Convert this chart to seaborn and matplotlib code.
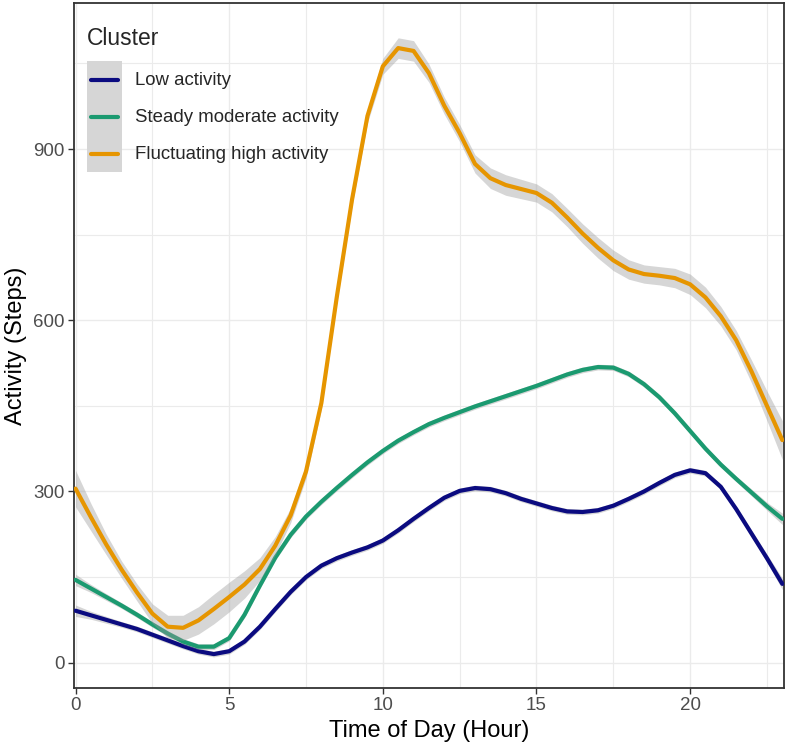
import numpy as np
import pandas as pd
import matplotlib
matplotlib.use("Agg")
import matplotlib.pyplot as plt
import seaborn as sns
from matplotlib.patches import Patch
from matplotlib.lines import Line2D
from matplotlib.legend_handler import HandlerTuple, HandlerLine2D
from matplotlib.ticker import MultipleLocator

# half-hourly grid of the smoothed curves
HOURS = np.arange(0, 23.5, 0.5)

CLUSTERS = ["Low activity", "Steady moderate activity", "Fluctuating high activity"]
COLOURS = ["#0B0B80", "#1B9A70", "#E69500"]

LOW = [91, 83, 75, 67, 59, 49, 39, 29, 20, 15, 20, 37, 63, 94, 124, 150, 170, 183,
       193, 202, 214, 232, 252, 271, 289, 301, 306, 304, 297, 287, 279, 271, 265, 264,
       267, 275, 287, 300, 315, 329, 337, 332, 308, 269, 226, 183, 138]
LOW_SE = [10, 7, 6, 5, 5, 5, 5, 5, 5, 5, 5, 5, 5, 5, 5, 5, 5, 5, 5, 5, 5, 5, 5, 5,
          5, 5, 5, 5, 5, 5, 5, 5, 5, 5, 5, 5, 5, 5, 5, 5, 5, 5, 5, 5, 6, 7, 10]

MODERATE = [145, 130, 115, 100, 84, 67, 51, 37, 28, 28, 43, 84, 135, 184, 224, 256,
            282, 306, 329, 351, 371, 389, 404, 418, 429, 439, 449, 458, 467, 476, 485,
            495, 505, 513, 518, 517, 506, 488, 465, 437, 406, 375, 347, 322, 298, 274, 252]
MODERATE_SE = [10, 7, 6, 5, 5, 5, 5, 5, 5, 5, 5, 5, 5, 5, 5, 5, 5, 5, 5, 5, 5, 5, 5, 5,
               5, 5, 5, 5, 5, 5, 5, 5, 5, 5, 5, 5, 5, 5, 5, 5, 5, 5, 5, 5, 6, 7, 10]

HIGH = [305, 255, 207, 163, 123, 86, 63, 61, 74, 94, 115, 137, 164, 205, 258, 335,
        455, 640, 812, 958, 1045, 1077, 1072, 1033, 976, 928, 874, 849, 837, 830, 823,
        806, 780, 752, 727, 705, 689, 681, 678, 674, 663, 640, 607, 565, 510, 450, 390]
HIGH_SE = [32, 24, 18, 15, 15, 17, 20, 22, 24, 26, 26, 24, 20, 16, 13, 12, 11, 11, 11,
           12, 14, 18, 18, 16, 15, 15, 16, 18, 18, 17, 16, 16, 16, 17, 18, 18, 17, 16,
           16, 17, 18, 18, 17, 17, 20, 26, 34]

frames = []
for name, vals, se in zip(CLUSTERS, [LOW, MODERATE, HIGH], [LOW_SE, MODERATE_SE, HIGH_SE]):
    frames.append(pd.DataFrame({"hour": HOURS, "steps": vals, "se": se, "cluster": name}))
df = pd.concat(frames, ignore_index=True)

sns.set_theme(style="white")
plt.rcParams["font.family"] = ["Liberation Sans", "DejaVu Sans"]

fig, ax = plt.subplots(figsize=(7.87, 7.5), dpi=100)
fig.subplots_adjust(left=0.094, right=0.996, bottom=0.083, top=0.996)

RIBBON = "#D6D6D6"
for i, (name, col) in enumerate(zip(CLUSTERS, COLOURS)):
    d = df[df["cluster"] == name]
    ax.fill_between(d["hour"], d["steps"] - d["se"], d["steps"] + d["se"],
                    color="#999999", alpha=0.4, lw=0, zorder=3 + 2 * i)
    sns.lineplot(data=d, x="hour", y="steps", color=col, lw=3, ax=ax,
                 legend=False, zorder=4 + 2 * i, solid_joinstyle="round")

ax.set_xlim(-0.05, 23.05)
ax.set_ylim(-44, 1156)
ax.xaxis.set_major_locator(MultipleLocator(5))
ax.xaxis.set_minor_locator(MultipleLocator(2.5))
ax.yaxis.set_major_locator(MultipleLocator(300))
ax.yaxis.set_minor_locator(MultipleLocator(150))
ax.grid(which="major", color="#EBEBEB", lw=1.0, zorder=0)
ax.grid(which="minor", color="#EBEBEB", lw=0.8, zorder=0)
ax.set_axisbelow(True)
ax.tick_params(which="major", length=4, width=1, color="#333333", pad=3,
               labelsize=13.5, labelcolor="#4D4D4D", bottom=True, left=True)
ax.tick_params(which="minor", length=0)
for s in ax.spines.values():
    s.set_color("#333333")
    s.set_linewidth(1.3)

ax.set_xlabel("Time of Day (Hour)", fontsize=17, color="black", labelpad=4)
ax.set_ylabel("Activity (Steps)", fontsize=17, color="black", labelpad=4)


class KeyLine(HandlerLine2D):
    def create_artists(self, legend, orig_handle, xdescent, ydescent, width, height,
                       fontsize, trans):
        arts = super().create_artists(legend, orig_handle, xdescent, ydescent, width,
                                      height, fontsize, trans)
        for a in arts:
            n = len(a.get_xdata())
            a.set_xdata(np.linspace(-xdescent + 3, -xdescent + width - 3, n))
            a.set_ydata(np.full(n, height / 2 - ydescent))
        return arts


handles = [(Patch(facecolor=RIBBON, edgecolor="none"), Line2D([], [], color=c, lw=3))
           for c in COLOURS]
leg = ax.legend(handles, CLUSTERS, title="Cluster",
                handler_map={tuple: HandlerTuple(ndivide=1, pad=0), Line2D: KeyLine()},
                loc="upper left", bbox_to_anchor=(0.018, 0.965), frameon=False,
                fontsize=13.4, title_fontsize=16.5, handlelength=1.88, handleheight=2.68,
                labelspacing=0, handletextpad=0.7, borderpad=0, borderaxespad=0,
                alignment="left")
leg._legend_box.sep = 8

fig.savefig("out.png", dpi=100)
